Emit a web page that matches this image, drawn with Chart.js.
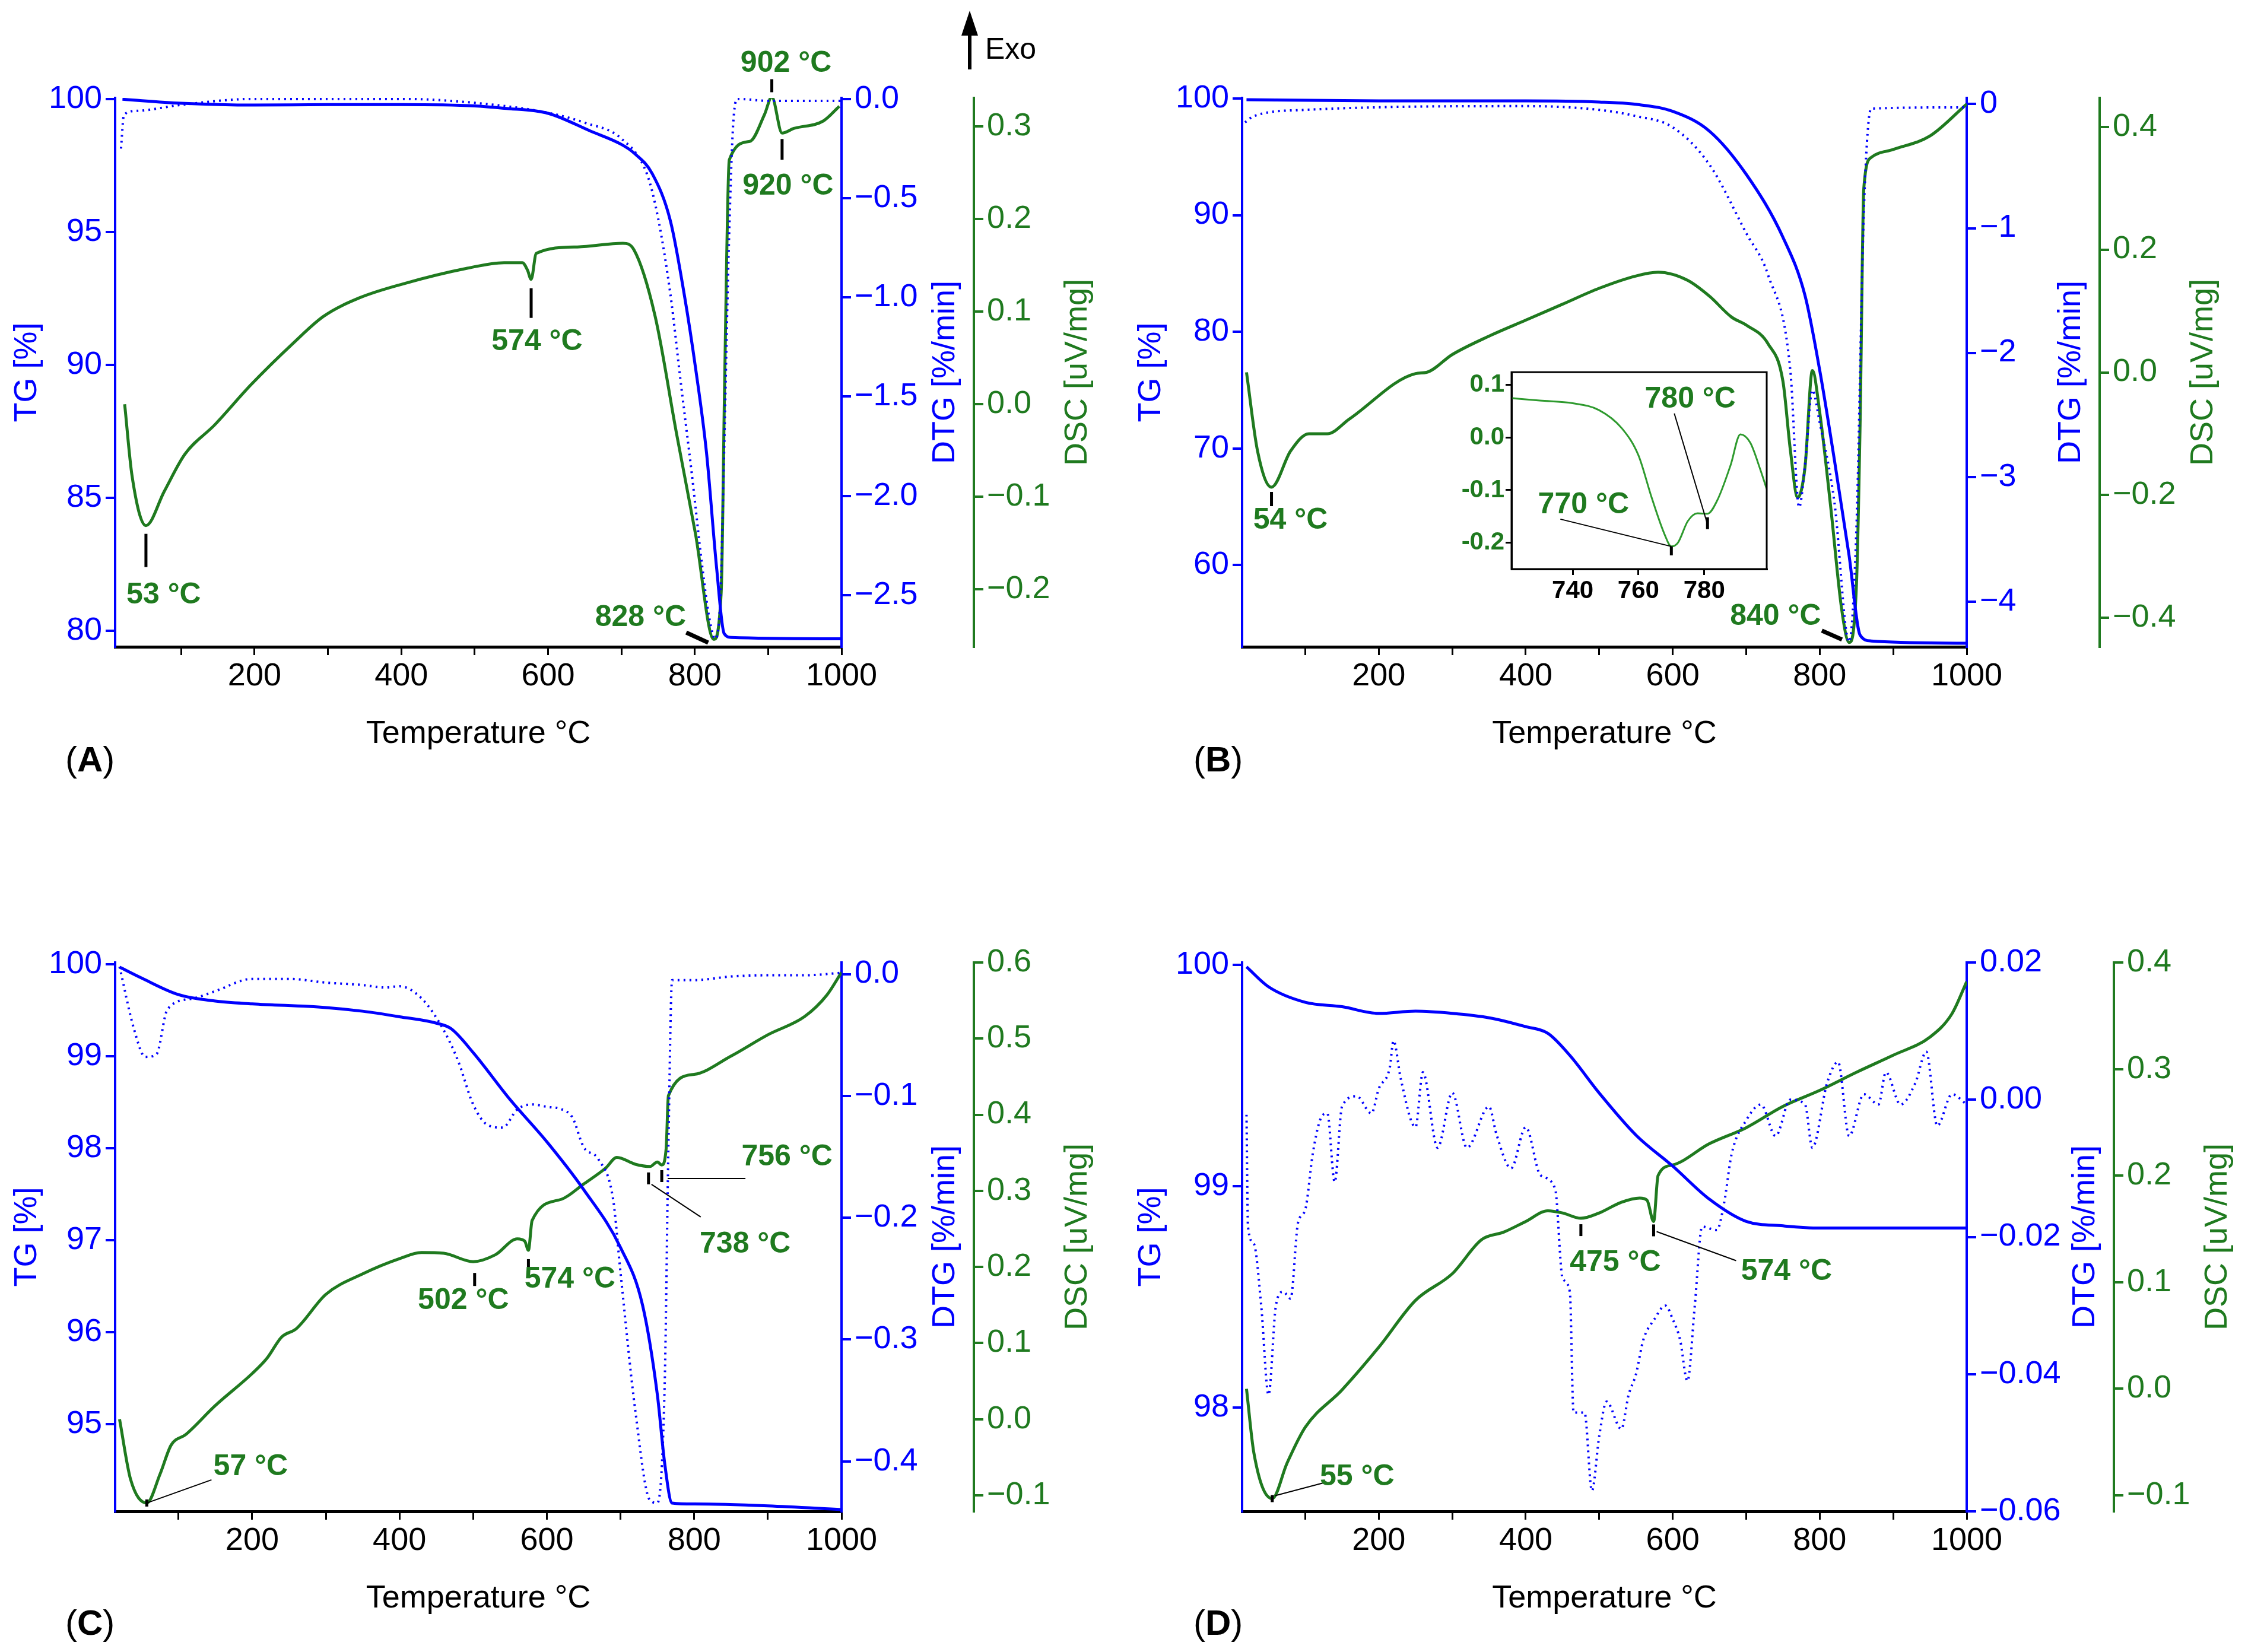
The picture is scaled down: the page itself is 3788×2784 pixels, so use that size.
<!DOCTYPE html>
<html>
<head>
<meta charset="utf-8">
<script src="https://cdn.jsdelivr.net/npm/chart.js@4.4.1/dist/chart.umd.min.js"></script>
<style>
  body { margin:0; background:#fff; width:3788px; height:2784px; position:relative; overflow:hidden; font-family:'Liberation Sans', Arial, sans-serif; }
  .box { position:absolute; }
  .tag { position:absolute; font-size:60px; color:#000; }
</style>
</head>
<body>
<div class="box" style="left:0;top:0;width:1894px;height:1392px"><canvas id="cA"></canvas></div>
<div class="box" style="left:1894px;top:0;width:1894px;height:1392px"><canvas id="cB"></canvas></div>
<div class="box" style="left:0;top:1392px;width:1894px;height:1392px"><canvas id="cC"></canvas></div>
<div class="box" style="left:1894px;top:1392px;width:1894px;height:1392px"><canvas id="cD"></canvas></div>
<div class="box" style="left:2440px;top:600px;width:560px;height:440px"><canvas id="cInset"></canvas></div>
<div class="tag" style="left:110px;top:1245px">(<b>A</b>)</div>
<div class="tag" style="left:2011px;top:1245px">(<b>B</b>)</div>
<div class="tag" style="left:110px;top:2700px">(<b>C</b>)</div>
<div class="tag" style="left:2011px;top:2700px">(<b>D</b>)</div>
<script>
const BLUE = '#0000ff', GREEN = '#1f7a1f'
const MARK_FONT = 'bold 50px "Liberation Sans Narrow", "Liberation Sans", Arial'

// ---- panel A ----
const tgA = [[20,100],[100,99.85],[200,99.78],[300,99.8],[400,99.8],[500,99.75],[540,99.66],[600,99.47],[658,98.8],[700,98.3],[717,97.98],[742,97.2],[767,95.4],[786,92.6],[801,89.9],[816,86.7],[830,82.3],[840,79.9],[850,79.75],[1000,79.7]]
const dtgA = [[18,-0.25],[22,-0.08],[40,-0.06],[100,-0.03],[200,0],[400,0],[500,-0.02],[600,-0.07],[650,-0.12],[700,-0.2],[735,-0.38],[750,-0.6],[767,-0.99],[780,-1.4],[796,-1.89],[810,-2.35],[820,-2.62],[828,-2.72],[835,-2.5],[840,-1.78],[846,-0.8],[852,-0.15],[858,0],[900,-0.01],[1000,-0.01]]
const dscA = [[23,0.0],[33,-0.077],[52,-0.131],[77,-0.094],[105,-0.054],[146,-0.022],[195,0.021],[254,0.067],[294,0.095],[343,0.115],[402,0.13],[490,0.147],[540,0.153],[565,0.153],[572,0.145],[577,0.135],[584,0.163],[640,0.17],[702,0.174],[717,0.167],[746,0.095],[775,-0.031],[801,-0.14],[826,-0.254],[836,-0.203],[841,0.038],[847,0.264],[875,0.284],[895,0.313],[905,0.332],[919,0.293],[935,0.298],[975,0.306],[997,0.322]]

// ---- panel B ----
const tgB = [[20,99.9],[200,99.8],[400,99.8],[500,99.7],[550,99.5],[600,98.9],[650,97.2],[700,93.5],[750,88.1],[780,83.1],[800,76.7],[820,69],[840,60.8],[855,54.0],[870,53.5],[1000,53.3]]
const dtgB = [[18,-0.15],[30,-0.1],[100,-0.05],[400,-0.02],[500,-0.05],[550,-0.1],[600,-0.19],[650,-0.49],[700,-1.04],[730,-1.38],[760,-2.14],[772,-3.24],[780,-2.9],[790,-2.3],[800,-2.56],[820,-3.2],[840,-4.32],[850,-3.4],[860,-0.87],[870,-0.04],[1000,-0.03]]
const dscB = [[20,0],[35,-0.128],[54,-0.187],[80,-0.128],[105,-0.1],[130,-0.1],[160,-0.076],[250,-0.002],[265,0],[300,0.029],[350,0.059],[400,0.085],[450,0.111],[500,0.137],[550,0.157],[580,0.163],[620,0.15],[650,0.124],[680,0.09],[700,0.077],[730,0.046],[750,-0.015],[760,-0.126],[770,-0.204],[780,-0.154],[790,0.003],[800,-0.065],[815,-0.22],[830,-0.387],[840,-0.44],[850,-0.345],[855,-0.08],[860,0.3],[870,0.35],[900,0.363],[950,0.385],[1000,0.437]]
const dscInset = [[721,0.075],[730,0.07],[740,0.065],[748,0.052],[755,0.017],[760,-0.034],[764,-0.114],[768,-0.185],[770,-0.207],[772,-0.2],[775,-0.159],[778,-0.144],[781,-0.145],[784,-0.119],[788,-0.053],[791,0.006],[794,-0.01],[797,-0.06],[799,-0.098]]

// ---- panel C ----
const tgC = [[20,99.97],[50,99.85],[100,99.67],[150,99.6],[200,99.57],[300,99.53],[350,99.49],[400,99.43],[450,99.36],[470,99.3],[500,99.04],[550,98.53],[600,98.07],[650,97.55],[700,96.92],[730,96.29],[750,95.32],[760,94.57],[770,94.14],[800,94.13],[900,94.11],[1000,94.07]]
const dtgC = [[20,0.006],[40,-0.046],[55,-0.068],[70,-0.066],[85,-0.029],[120,-0.02],[150,-0.014],[200,-0.004],[250,-0.004],[300,-0.007],[350,-0.009],[380,-0.011],[400,-0.01],[430,-0.02],[460,-0.046],[480,-0.072],[500,-0.107],[520,-0.124],[540,-0.126],[560,-0.111],[580,-0.107],[600,-0.109],[620,-0.111],[635,-0.118],[650,-0.142],[670,-0.152],[690,-0.185],[700,-0.245],[720,-0.358],[740,-0.432],[750,-0.434],[760,-0.336],[765,-0.142],[770,-0.005],[800,-0.005],[850,-0.002],[900,-0.001],[950,-0.001],[1000,0.001]]
const dscC = [[20,0],[35,-0.079],[57,-0.11],[75,-0.072],[90,-0.034],[110,-0.02],[150,0.018],[200,0.06],[220,0.08],[240,0.108],[260,0.119],[300,0.164],[350,0.191],[400,0.211],[430,0.219],[460,0.218],[500,0.207],[530,0.216],[560,0.237],[570,0.234],[575,0.222],[580,0.261],[620,0.289],[650,0.309],[680,0.33],[695,0.344],[720,0.335],[740,0.332],[750,0.338],[756,0.334],[762,0.356],[765,0.425],[800,0.453],[850,0.477],[900,0.505],[950,0.529],[980,0.557],[1000,0.587]]

// ---- panel D ----
const tgD = [[20,99.99],[50,99.9],[100,99.83],[150,99.81],[200,99.78],[250,99.79],[300,99.78],[350,99.76],[400,99.72],[430,99.69],[460,99.59],[500,99.42],[550,99.23],[600,99.09],[650,98.94],[700,98.84],[750,98.82],[800,98.81],[1000,98.81]]
const dtgD = [[20,-0.0022],[22,-0.0185],[30,-0.021],[40,-0.03],[50,-0.043],[60,-0.03],[70,-0.028],[80,-0.029],[90,-0.018],[100,-0.016],[110,-0.008],[120,-0.003],[130,-0.002],[140,-0.012],[150,-0.001],[170,0.0005],[190,-0.002],[200,0.0016],[215,0.0047],[220,0.0086],[230,0.003],[250,-0.004],[260,0.004],[280,-0.007],[300,0.001],[320,-0.007],[350,-0.001],[360,-0.005],[380,-0.01],[400,-0.004],[420,-0.011],[440,-0.013],[450,-0.026],[460,-0.028],[465,-0.0456],[480,-0.0456],[490,-0.057],[500,-0.049],[510,-0.044],[530,-0.048],[540,-0.043],[550,-0.04],[560,-0.035],[575,-0.032],[590,-0.03],[600,-0.032],[610,-0.035],[620,-0.041],[630,-0.03],[640,-0.0185],[660,-0.019],[670,-0.015],[680,-0.008],[700,-0.003],[720,-0.0007],[740,-0.0053],[760,0],[780,-0.0007],[790,-0.007],[810,0.0024],[825,0.0055],[840,-0.0053],[860,0.0008],[880,-0.0007],[890,0.004],[910,-0.0007],[930,0.0024],[945,0.007],[960,-0.0038],[980,0.0008],[1000,-0.0007]]
const dscD = [[20,0],[30,-0.06],[55,-0.103],[75,-0.07],[100,-0.036],[150,-0.001],[200,0.039],[250,0.083],[300,0.108],[340,0.14],[370,0.147],[400,0.157],[430,0.167],[450,0.165],[475,0.16],[500,0.165],[530,0.175],[555,0.179],[565,0.177],[574,0.157],[580,0.2],[600,0.21],[650,0.23],[700,0.245],[750,0.265],[800,0.28],[850,0.297],[900,0.313],[950,0.33],[980,0.352],[1000,0.382]]

// tick labels
const xTicks = ['100','200','300','400','500','600','700','800','900','1000']
const tgTicksA = ['80','85','90','95','100'], dtgTicksA = ['−2.5','−2.0','−1.5','−1.0','−0.5','0.0'], dscTicksA = ['−0.2','−0.1','0.0','0.1','0.2','0.3']
const tgTicksB = ['60','70','80','90','100'], dtgTicksB = ['−4','−3','−2','−1','0'], dscTicksB = ['−0.4','−0.2','0.0','0.2','0.4']
const tgTicksC = ['95','96','97','98','99','100'], dtgTicksC = ['−0.4','−0.3','−0.2','−0.1','0.0'], dscTicksC = ['−0.1','0.0','0.1','0.2','0.3','0.4','0.5','0.6']
const tgTicksD = ['98','99','100'], dtgTicksD = ['−0.06','−0.04','−0.02','0.00','0.02'], dscTicksD = ['−0.1','0.0','0.1','0.2','0.3','0.4']
const insetXTicks = ['740','760','780'], insetYTicks = ['-0.2','-0.1','0.0','0.1']

const num = s => parseFloat(s.replace('−','-'))
const pts = arr => arr.map(p => ({ x: p[0], y: p[1] }))

function fixTicks(labels) {
  return {
    afterBuildTicks: sc => { sc.ticks = labels.map(l => ({ value: num(l), label: l })) },
    afterTickToLabelConversion: sc => { sc.ticks.forEach((t, i) => t.label = labels[i]) }
  }
}

const marksPlugin = {
  id: 'marks',
  beforeDraw(chart, args, opts) {
    if (!opts.frame) return
    const a = chart.chartArea, ctx = chart.ctx
    ctx.save(); ctx.fillStyle = '#fff'
    ctx.fillRect(a.left, a.top, a.right - a.left, a.bottom - a.top); ctx.restore()
  },
  afterDraw(chart, args, opts) {
    const ctx = chart.ctx
    ;(opts.items || []).forEach(m => {
      const px = chart.scales.x.getPixelForValue(m.x)
      const py = chart.scales[m.axis || 'y3'].getPixelForValue(m.v)
      ctx.save()
      ctx.strokeStyle = '#000'
      ;(m.lines || []).forEach(l => {
        ctx.lineWidth = l[4] || 5
        ctx.beginPath(); ctx.moveTo(px + l[0], py + l[1]); ctx.lineTo(px + l[2], py + l[3]); ctx.stroke()
      })
      ctx.fillStyle = opts.color || GREEN
      ctx.font = opts.font || MARK_FONT
      ctx.textAlign = 'center'; ctx.textBaseline = 'middle'
      ctx.fillText(m.text, px + m.t[0], py + m.t[1])
      ctx.restore()
    })
    // right-hand axis titles, read bottom to top
    ;(opts.rtitles || []).forEach(rt => {
      const sc = chart.scales[rt.axis]
      ctx.save()
      ctx.translate(sc.right - rt.off, (sc.top + sc.bottom) / 2)
      ctx.rotate(-Math.PI / 2)
      ctx.fillStyle = rt.color; ctx.font = '54px "Liberation Sans", Arial'
      ctx.textAlign = 'center'; ctx.textBaseline = 'middle'
      ctx.fillText(rt.text, 0, 0)
      ctx.restore()
    })
    if (opts.exo) {
      ctx.save()
      ctx.fillStyle = '#000'; ctx.strokeStyle = '#000'; ctx.lineWidth = 6
      ctx.beginPath(); ctx.moveTo(1634, 117); ctx.lineTo(1634, 50); ctx.stroke()
      ctx.beginPath(); ctx.moveTo(1634, 18); ctx.lineTo(1620, 60); ctx.lineTo(1648, 60); ctx.closePath(); ctx.fill()
      ctx.font = '50px "Liberation Sans", Arial'; ctx.textBaseline = 'middle'
      ctx.fillText('Exo', 1660, 85)
      ctx.restore()
    }
    if (opts.frame) {
      const a = chart.chartArea
      ctx.save(); ctx.strokeStyle = '#000'; ctx.lineWidth = 3
      ctx.strokeRect(a.left, a.top, a.right - a.left, a.bottom - a.top); ctx.restore()
    }
  }
}
Chart.register(marksPlugin)

const tickFont = { family: '"Liberation Sans", Arial', size: 54 }
const titleFont = { family: '"Liberation Sans", Arial', size: 54 }

function panel(id, cfg) {
  const L = cfg.L, R = cfg.R, T = cfg.T, B = cfg.B, D = cfg.dsc
  const yAxis = (lo, hi, labels, color, pos, width, title, weight) => ({
    type: 'linear', position: pos, min: lo, max: hi, weight,
    grid: { drawOnChartArea: false, color, tickLength: 16, lineWidth: 4 },
    border: { display: true, color, width: 4 },
    ticks: { color, font: tickFont, padding: 6, autoSkip: false },
    title: { display: !!title, text: title, color, font: titleFont, padding: { top: 14, bottom: 0 } },
    afterFit: sc => { sc.width = width },
    ...fixTicks(labels)
  })
  const line = (data, axis, color, dash, w) => ({
    data: pts(data), yAxisID: axis, borderColor: color, borderWidth: w, borderDash: dash,
    pointRadius: 0, cubicInterpolationMode: 'monotone', fill: false
  })
  new Chart(document.getElementById(id), {
    type: 'line',
    data: { datasets: [
      line(cfg.dtg, 'y2', BLUE, [3, 7], 4),
      line(cfg.tg, 'y', BLUE, [], 5),
      line(cfg.dscData, 'y3', GREEN, [], 5)
    ] },
    options: {
      responsive: true, maintainAspectRatio: false, animation: false,
      layout: { padding: { left: 0, top: T, right: 1894 - D - 210, bottom: 1392 - B - 180 } },
      plugins: { legend: { display: false }, tooltip: { enabled: false },
        marks: { items: cfg.marks, exo: cfg.exo, rtitles: [
          { axis: 'y2', text: 'DTG [%/min]', color: BLUE, off: 48 },
          { axis: 'y3', text: 'DSC [uV/mg]', color: GREEN, off: 35 }
        ] } },
      scales: {
        x: {
          type: 'linear', min: cfg.xmin, max: 1000,
          grid: { drawOnChartArea: false, color: '#000', tickLength: 14, lineWidth: 3 },
          border: { display: true, color: '#000', width: 5 },
          ticks: { color: '#000', font: tickFont, padding: 4, autoSkip: false, maxRotation: 0 },
          title: { display: true, text: 'Temperature °C', color: '#000', font: titleFont, padding: 0 },
          afterFit: sc => { sc.height = 180 },
          afterBuildTicks: sc => { sc.ticks = xTicks.map(l => ({ value: num(l) })) },
          afterTickToLabelConversion: sc => { sc.ticks.forEach(t => t.label = t.value % 200 === 0 ? String(t.value) : '') }
        },
        y: yAxis(cfg.tgR[0], cfg.tgR[1], cfg.tgT, BLUE, 'left', L, 'TG [%]', 0),
        y2: yAxis(cfg.dtgR[0], cfg.dtgR[1], cfg.dtgT, BLUE, 'right', D - R, '', 1),
        y3: yAxis(cfg.dscR[0], cfg.dscR[1], cfg.dscT, GREEN, 'right', 210, '', 2)
      }
    }
  })
}

panel('cA', { L: 194, R: 1418, T: 165, B: 1090, dsc: 1641, xmin: 10,
  tg: tgA, dtg: dtgA, dscData: dscA, tgR: [79.4, 100.05], dtgR: [-2.76, 0.005], dscR: [-0.262, 0.331],
  tgT: tgTicksA, dtgT: dtgTicksA, dscT: dscTicksA, exo: true,
  marks: [
    { x: 52, v: -0.131, text: '53 °C', t: [30, 118], lines: [[0, 14, 0, 70]] },
    { x: 577, v: 0.135, text: '574 °C', t: [10, 105], lines: [[0, 15, 0, 65]] },
    { x: 828, v: -0.262, text: '828 °C', t: [-126, -49], lines: [[-49, -24, -12, -7, 7]] },
    { x: 905, v: 0.332, text: '902 °C', t: [24, -56], lines: [[0, -30, 0, -8]] },
    { x: 919, v: 0.293, text: '920 °C', t: [10, 90], lines: [[0, 10, 0, 45]] }
  ] })

panel('cB', { L: 199, R: 1420, T: 165, B: 1090, dsc: 1644, xmin: 14,
  tg: tgB, dtg: dtgB, dscData: dscB, tgR: [53, 100.05], dtgR: [-4.36, 0.046], dscR: [-0.447, 0.447],
  tgT: tgTicksB, dtgT: dtgTicksB, dscT: dscTicksB,
  marks: [
    { x: 54, v: -0.187, text: '54 °C', t: [32, 56], lines: [[0, 8, 0, 32]] },
    { x: 840, v: -0.44, text: '840 °C', t: [-124, -44], lines: [[-46, -20, -12, -5, 7]] }
  ] })

panel('cC', { L: 194, R: 1418, T: 230, B: 1155, dsc: 1641, xmin: 14,
  tg: tgC, dtg: dtgC, dscData: dscC, tgR: [94.05, 100.02], dtgR: [-0.441, 0.0095], dscR: [-0.121, 0.6],
  tgT: tgTicksC, dtgT: dtgTicksC, dscT: dscTicksC,
  marks: [
    { x: 57, v: -0.11, text: '57 °C', t: [175, -61], lines: [[0, 0, 109, -39, 2], [0, -6, 0, 6, 5]] },
    { x: 502, v: 0.207, text: '502 °C', t: [-19, 66], lines: [[0, 19, 0, 41]] },
    { x: 575, v: 0.222, text: '574 °C', t: [70, 49], lines: [[0, 15, 0, 40]] },
    { x: 738, v: 0.332, text: '738 °C', t: [163, 131], lines: [[0, 10, 0, 30], [5, 30, 88, 85, 2]] },
    { x: 756, v: 0.335, text: '756 °C', t: [211, -12], lines: [[0, 10, 0, 30], [10, 24, 141, 24, 2]] }
  ] })

panel('cD', { L: 199, R: 1420, T: 230, B: 1155, dsc: 1668, xmin: 14,
  tg: tgD, dtg: dtgD, dscData: dscD, tgR: [97.53, 100.01], dtgR: [-0.06, 0.02], dscR: [-0.115, 0.4],
  tgT: tgTicksD, dtgT: dtgTicksD, dscT: dscTicksD,
  marks: [
    { x: 55, v: -0.103, text: '55 °C', t: [143, -36], lines: [[5, -5, 92, -28, 2], [0, -6, 0, 6, 5]] },
    { x: 475, v: 0.16, text: '475 °C', t: [58, 75], lines: [[0, 10, 0, 30]] },
    { x: 574, v: 0.157, text: '574 °C', t: [224, 85], lines: [[0, 5, 0, 25], [5, 17, 139, 66, 2]] }
  ] })

// inset of panel B
const insetFont = { family: '"Liberation Sans Narrow", "Liberation Sans", Arial', size: 42, weight: 'bold' }
new Chart(document.getElementById('cInset'), {
  type: 'line',
  data: { datasets: [{ data: pts(dscInset), borderColor: '#2e9a2e', borderWidth: 3, pointRadius: 0, cubicInterpolationMode: 'monotone' }] },
  options: {
    responsive: true, maintainAspectRatio: false, animation: false,
    layout: { padding: { left: 0, top: 26, right: 23, bottom: 0 } },
    plugins: { legend: { display: false }, tooltip: { enabled: false },
      marks: { frame: true, items: [
        { x: 770, v: -0.207, axis: 'y', text: '770 °C', t: [-148, -70], lines: [[-187, -46, 0, 0, 2], [0, 0, 0, 15, 5]] },
        { x: 781, v: -0.146, axis: 'y', text: '780 °C', t: [-29, -194], lines: [[-56, -170, 0, 17, 2], [0, 5, 0, 25, 5]] }
      ] } },
    scales: {
      x: { type: 'linear', min: 721.4, max: 799,
        grid: { drawOnChartArea: false, color: '#000', tickLength: 10, lineWidth: 3 },
        border: { display: true, color: '#000', width: 3 },
        ticks: { color: '#000', font: insetFont, padding: 2, maxRotation: 0 },
        afterFit: sc => { sc.height = 81 },
        ...fixTicks(insetXTicks) },
      y: { type: 'linear', min: -0.25, max: 0.124,
        grid: { drawOnChartArea: false, color: '#000', tickLength: 10, lineWidth: 3 },
        border: { display: true, color: '#000', width: 3 },
        ticks: { color: GREEN, font: insetFont, padding: 2 },
        afterFit: sc => { sc.width = 107 },
        ...fixTicks(insetYTicks) }
    }
  }
})
</script>
</body>
</html>
